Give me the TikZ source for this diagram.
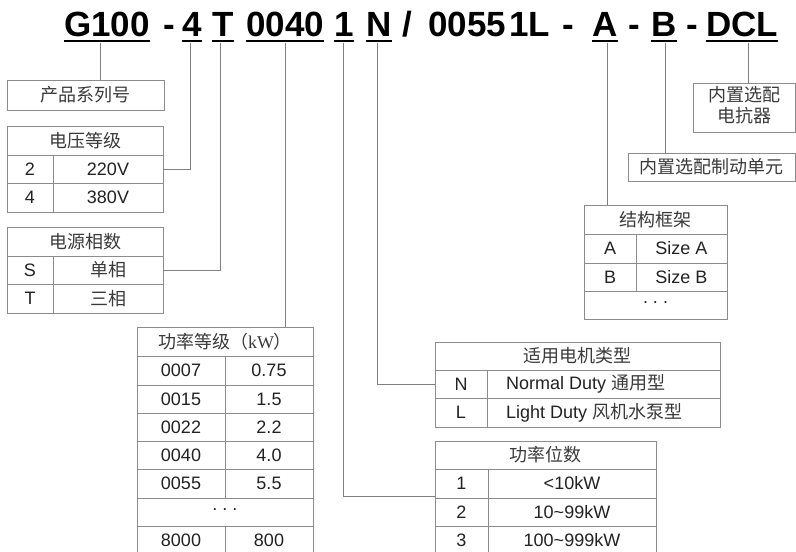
\documentclass[tikz,border=0pt]{standalone}
\usepackage{fontspec}
\setmainfont{Liberation Sans}
\newfontfamily\cjk{Noto Sans CJK SC}
\newfontfamily\serifl{Liberation Serif}
\definecolor{linegray}{HTML}{808080}
\definecolor{boxgray}{HTML}{8C8C8C}
\definecolor{txt}{HTML}{222222}
\definecolor{cjktxt}{HTML}{3A3A3A}
\newcommand{\tcell}[6]{%
  \pgfmathsetmacro\mycw{#4-#2}\pgfmathsetmacro\mych{#5-#3}%
  \node[cell,minimum width=\mycw pt,minimum height=\mych pt] (#1) at ({(#2+#4)/2},{(#3+#5)/2}) {#6};}
\newcommand{\zh}[1]{{\cjk\color{cjktxt}#1}}
\newcommand{\mydots}{\raisebox{0.28em}{.\hspace{5pt}.\hspace{5pt}.}}
\begin{document}
\begin{tikzpicture}[x=1pt,y=-1pt,
  cell/.style={draw=boxgray,line width=0.9pt,inner sep=0pt,text=txt,font=\fontsize{18}{22}\selectfont},
  link/.style={draw=linegray,line width=0.9pt},
  tok/.style={inner sep=0pt,anchor=base west,font=\fontsize{35}{38}\selectfont\bfseries,text=black},
  uline/.style={line width=2.6pt,draw=black},
  ltxt/.style={inner sep=0pt,anchor=west,text=txt,font=\fontsize{18}{22}\selectfont}]
\useasboundingbox (0,0) rectangle (796,552);
\fill[white] (0,0) rectangle (796,552);
% ---------- title tokens ----------
\node[tok] (tG) at (64,36) {G100};
\node[tok] (d1) at (163,36) {-};
\node[tok] (t4) at (182,36) {4};
\node[tok] (tT) at (212,36) {T};
\node[tok] (tP) at (246,36) {0040};
\node[tok] (t1) at (334,36) {1};
\node[tok] (tN) at (366,36) {N};
\node[tok] (sl) at (402,36) {/};
\node[tok] (t55) at (428,36) {0055};
\node[tok] (t1b) at (509,36) {1};
\node[tok] (tL) at (528,36) {L};
\node[tok] (d2) at (562,36) {-};
\node[tok] (tA) at (592,36) {A};
\node[tok] (d3) at (628,36) {-};
\node[tok] (tB) at (651,36) {B};
\node[tok] (d4) at (686,36) {-};
\node[tok] (tD) at (706,36) {DCL};
\foreach \t in {tG,t4,tT,tP,t1,tN,tA,tB,tD}
  \draw[uline] ([yshift=-5pt]\t.base west) -- ([yshift=-5pt]\t.base east);
% ---------- connector start points ----------
\coordinate (cG) at (100,42.5);
\coordinate (c4) at (190,42.5);
\coordinate (cT) at (220,42.5);
\coordinate (cP) at (285,42.5);
\coordinate (c1) at (343,42.5);
\coordinate (cN) at (377,42.5);
\coordinate (cA) at (607,42.5);
\coordinate (cB) at (665,42.5);
\coordinate (cD) at (748,42.5);
% ---------- product series ----------
\tcell{prod}{7}{80}{164}{110}{\zh{产品系列号}}
% ---------- voltage ----------
\tcell{vth}{7}{126}{163}{155}{\zh{电压等级}}
\tcell{vta}{7}{155}{53}{183}{2}
\tcell{vtb}{53}{155}{163}{183}{220V}
\tcell{vtc}{7}{183}{53}{212}{4}
\tcell{vtd}{53}{183}{163}{212}{380V}
% ---------- phases ----------
\tcell{psh}{7}{227}{163}{256}{\zh{电源相数}}
\tcell{psa}{7}{256}{53}{284}{S}
\tcell{psb}{53}{256}{163}{284}{\zh{单相}}
\tcell{psc}{7}{284}{53}{313}{T}
\tcell{psd}{53}{284}{163}{313}{\zh{三相}}
% ---------- power rating ----------
\tcell{pgh}{137}{327}{313}{356}{\zh{功率等级（}{\serifl\color{cjktxt}kW}\zh{）}}
\tcell{pga}{137}{356}{225}{385}{0007}
\tcell{pgb}{225}{356}{313}{385}{0.75}
\tcell{pgc}{137}{385}{225}{413}{0015}
\tcell{pgd}{225}{385}{313}{413}{1.5}
\tcell{pge}{137}{413}{225}{441}{0022}
\tcell{pgf}{225}{413}{313}{441}{2.2}
\tcell{pgg}{137}{441}{225}{469}{0040}
\tcell{pgi}{225}{441}{313}{469}{4.0}
\tcell{pgj}{137}{469}{225}{498}{0055}
\tcell{pgk}{225}{469}{313}{498}{5.5}
\tcell{pgl}{137}{498}{313}{526}{\mydots}
\tcell{pgm}{137}{526}{225}{555}{8000}
\tcell{pgn}{225}{526}{313}{555}{800}
% ---------- motor type ----------
\tcell{mth}{435}{342}{720}{370}{\zh{适用电机类型}}
\tcell{mta}{435}{370}{487}{398}{N}
\tcell{mtb}{487}{370}{720}{398}{}
\tcell{mtc}{435}{398}{487}{427}{L}
\tcell{mtd}{487}{398}{720}{427}{}
\node[ltxt] (mtbt) at (506,384) {Normal Duty \zh{通用型}};
\node[ltxt] (mtdt) at (506,412.5) {Light Duty \zh{风机水泵型}};
% ---------- power digits ----------
\tcell{pdh}{435}{441}{656}{469}{\zh{功率位数}}
\tcell{pda}{435}{469}{488}{498}{1}
\tcell{pdb}{488}{469}{656}{498}{<10kW}
\tcell{pdc}{435}{498}{488}{526}{2}
\tcell{pdd}{488}{498}{656}{526}{10\char`\~99kW}
\tcell{pde}{435}{526}{488}{555}{3}
\tcell{pdf}{488}{526}{656}{555}{100\char`\~999kW}
% ---------- frame ----------
\tcell{sfh}{584}{205}{727}{234}{\zh{结构框架}}
\tcell{sfa}{584}{234}{636}{263}{A}
\tcell{sfb}{636}{234}{727}{263}{Size A}
\tcell{sfc}{584}{263}{636}{291}{B}
\tcell{sfd}{636}{263}{727}{291}{Size B}
\tcell{sfe}{584}{291}{727}{319}{\mydots}
% ---------- options ----------
\tcell{brake}{628}{153}{795}{181}{\zh{内置选配制动单元}}
\tcell{dcl}{693}{83}{795}{132}{\zh{\begin{tabular}{@{}c@{}}内置选配\\[-1pt]电抗器\end{tabular}}}
% ---------- connectors ----------
\draw[link] (cG) -- (cG |- prod.north);
\draw[link] (c4) |- (vtb.east);
\draw[link] (cT) |- (psb.east);
\draw[link] (cP) -- (cP |- pgh.north);
\draw[link] (c1) |- ([yshift=-13pt]pda.west);
\draw[link] (cN) |- (mta.west);
\draw[link] (cA) -- (cA |- sfh.north);
\draw[link] (cB) -- (cB |- brake.north);
\draw[link] (cD) -- (cD |- dcl.north);
\end{tikzpicture}
\end{document}
